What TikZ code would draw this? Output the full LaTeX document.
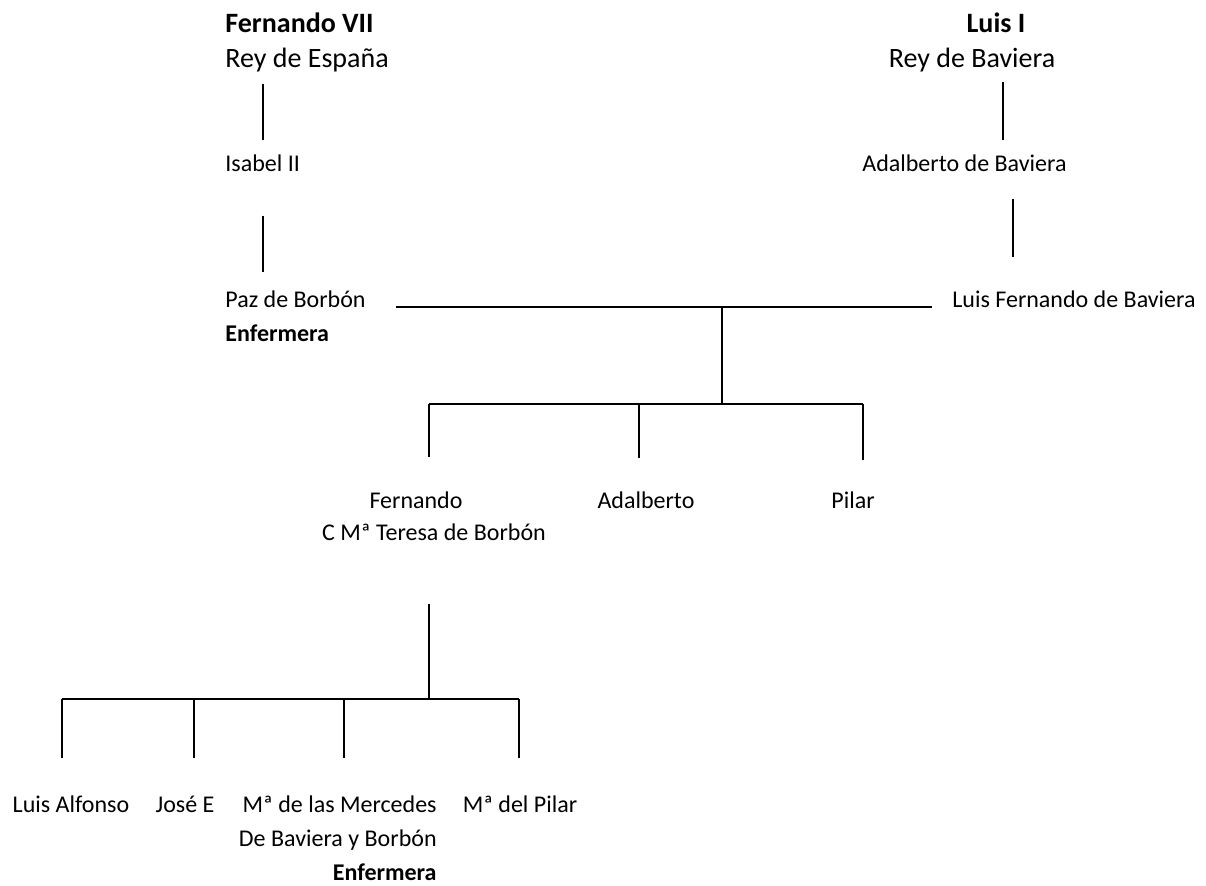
\documentclass[tikz,border=0pt]{standalone}
\usepackage{fontspec}
\setmainfont{Carlito}
\usetikzlibrary{positioning}
\tikzset{
  person/.style={inner sep=0pt,font=\fontsize{12}{17}\selectfont},
  person-head/.style={font=\fontsize{14}{17.5}\selectfont},
  person-left/.style={person,align=left,anchor=base west},
  person-mid/.style={person,align=center,anchor=base},
  person-right/.style={person,align=right,anchor=base east},
  link/.style={line width=1pt,draw=black},
}

\begin{document}
\begin{tikzpicture}[x=0.5pt,y=-0.5pt]
  \useasboundingbox (0,0) rectangle (1206,885);
  % rama de Espana
  \node[person-left,person-head] (fernando7) at (225,67) {\textbf{Fernando VII}\\Rey de España};
  \node[person-left] (isabel) at (225,171) {Isabel II};
  \node[person-left] (paz) at (225,341) {Paz de Borbón\\\textbf{Enfermera}};
  \draw[link,shorten <=6pt,shorten >=7pt] (fernando7.south -| isabel.north) -- (isabel.north);
  \draw[link,shorten <=22pt,shorten >=9pt] (isabel.south) -- (paz.north -| isabel.south);
  % rama de Baviera
  \node[person-mid,person-head] (luis1) at (996,32) {\textbf{Luis I}};
  \node[person-mid,person-head] (reyBav) at (972,67) {Rey de Baviera};
  \node[person-left] (adalberto1) at (862,171) {Adalberto de Baviera};
  \node[person-left] (luisfer) at (952,307) {Luis Fernando de Baviera};
  \draw[link,shorten <=5pt,shorten >=7pt] ([xshift=3.5pt]reyBav.south -| luis1.south) -- ([xshift=3.5pt]adalberto1.north -| luis1.south);
  \draw[link,shorten <=13.5pt,shorten >=16.5pt] ([xshift=75.5pt]adalberto1.south west) -- ([xshift=75.5pt]adalberto1.south west |- luisfer.north);
  % matrimonio
  \draw[link,shorten <=15pt,shorten >=10pt] (paz.east |- luisfer.base west) -- (luisfer.base west);
  \coordinate (union) at (722,306);
  \coordinate (hijos) at (722,404);
  \draw[link] (union) -- (hijos);
  % hijos
  \node[person-mid] (fernando) at (416,508) {Fernando};
  \node[person-mid] (teresa) at (434,540) {C Mª Teresa de Borbón};
  \node[person-mid] (adalberto2) at (646,508) {Adalberto};
  \node[person-mid] (pilar) at (853,508) {Pilar};
  \coordinate (hFer) at (429,404);
  \coordinate (hAda) at (639,404);
  \coordinate (hPil) at (863,404);
  \draw[link] (hFer) -- (hPil);
  \draw[link,shorten >=17pt] (hFer) -- (hFer |- fernando.north);
  \draw[link,shorten >=16.5pt] (hAda) -- (hAda |- adalberto2.north);
  \draw[link,shorten >=15.5pt] (hPil) -- (hPil |- pilar.north);
  % nietos
  \coordinate (nietos) at (429,699);
  \draw[link,shorten <=31.5pt] (teresa.south -| nietos) -- (nietos);
  \node[person-mid] (luisalf) at (71,812) {Luis Alfonso};
  \node[person-mid] (jose) at (185,812) {José E};
  \node[person-right] (mercedes) at (437,880) {Mª de las Mercedes\\De Baviera y Borbón\\\textbf{Enfermera}};
  \node[person-mid] (mpilar) at (520,812) {Mª del Pilar};
  \coordinate (nLui) at (62,699);
  \coordinate (nJos) at (194,699);
  \coordinate (nMer) at (344,699);
  \coordinate (nPil) at (519,699);
  \draw[link] (nLui) -- (nPil);
  \draw[link,shorten >=18.5pt] (nLui) -- (nLui |- luisalf.north);
  \draw[link,shorten >=18.5pt] (nJos) -- (nJos |- jose.north);
  \draw[link,shorten >=18.5pt] (nMer) -- (nMer |- mpilar.north);
  \draw[link,shorten >=18.5pt] (nPil) -- (nPil |- mpilar.north);
\end{tikzpicture}
\end{document}
